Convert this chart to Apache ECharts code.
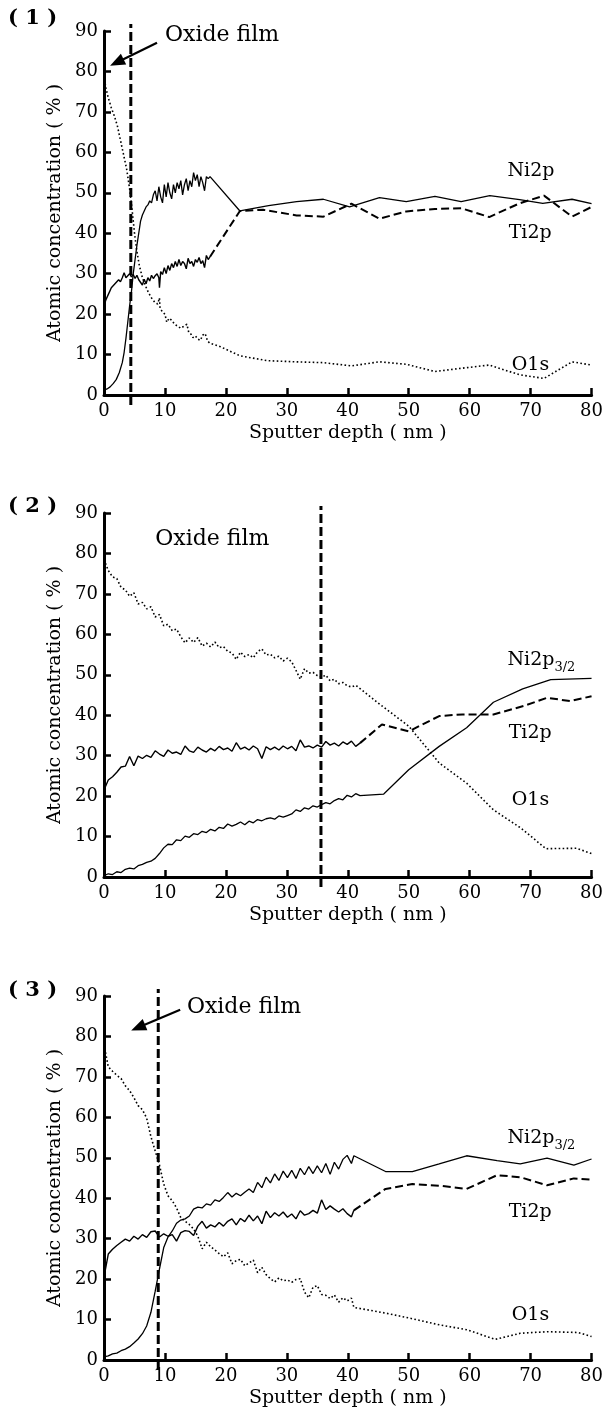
<!DOCTYPE html>
<html>
<head>
<meta charset="utf-8">
<script src="https://cdn.jsdelivr.net/npm/echarts@6/dist/echarts.min.js"></script>
<style>
  html, body { margin: 0; padding: 0; background: #fff; }
  #chart { width: 606px; height: 1414px; }
</style>
</head>
<body>
<div id="chart"></div>
<script>
// XPS depth profiles of the three samples: atomic concentration (%) vs sputter depth (nm)

// ---------- Panel (1) ----------
const p1NiDepth = [0, 0.5, 1, 1.5, 2, 2.5, 3, 3.3, 3.6, 3.9, 4.2, 4.5, 4.8, 5.1, 5.4, 5.7, 6, 6.3, 6.6, 6.9,
  7.2, 7.5, 7.8, 8.1, 8.4, 8.7, 9, 9.3, 9.6, 9.9, 10.2, 10.5, 10.8, 11.1, 11.4, 11.7, 12, 12.3, 12.6, 12.9,
  13.2, 13.5, 13.8, 14.1, 14.4, 14.7, 15, 15.3, 15.6, 15.9, 16.2, 16.5, 16.8, 17.1, 17.4,
  22.3, 27, 31.6, 36, 40.3, 45.2, 49.6, 54.3, 58.6, 63.3, 68.2, 72, 76.8, 80];
const p1Ni = [1.2, 1.5, 2, 2.8, 3.8, 5.5, 8, 10.5, 14, 18, 22, 25.5, 30, 33.5, 37, 40, 43, 44.5, 45.5, 46.5,
  47, 48, 47.5, 49.5, 50.5, 48, 51.5, 49, 47.5, 52, 49, 52.5, 50, 48.5, 52, 50, 52.5, 51, 53, 49.5,
  52, 53.5, 50.5, 53, 51.5, 55, 53, 54.5, 51.5, 54, 52.5, 50.5, 54, 53.5, 54,
  45.5, 46.8, 47.8, 48.4, 46.5, 48.8, 47.8, 49.1, 47.8, 49.3, 48.3, 47.4, 48.4, 47.3];

const p1TiDepth = [0, 0.3, 0.6, 0.9, 1.2, 1.5, 1.8, 2.1, 2.4, 2.7, 3, 3.3, 3.6, 3.9, 4.2, 4.5, 4.8, 5.1, 5.4, 5.7,
  6, 6.3, 6.6, 6.9, 7.2, 7.5, 7.8, 8.1, 8.4, 8.7, 9, 9.1, 9.3, 9.6, 9.9, 10.2, 10.5, 10.8, 11.1, 11.4,
  11.7, 12, 12.3, 12.6, 12.9, 13.2, 13.5, 13.8, 14.1, 14.4, 14.7, 15, 15.3, 15.6, 15.9, 16.2, 16.5, 16.8, 17.1, 17.4];
const p1Ti = [22, 23.5, 24.5, 25.5, 26.5, 27, 27.5, 28, 28.5, 28, 29, 30.2, 29, 29.5, 30, 29.2, 29.8, 28.8, 29.6, 28.5,
  28.2, 27.2, 28.6, 27.5, 29, 28.2, 29.6, 28.8, 29.5, 30, 29, 26.5, 30.5, 29.8, 31.5, 30, 32, 30.8, 32.5, 31.5,
  33, 31.8, 33.5, 32, 33, 32.5, 31.2, 33.8, 32.5, 33, 31.8, 33.5, 32.8, 34, 32.5, 33.2, 31.5, 34.5, 33.5, 34.2];
const p1TiTailDepth = [22.3, 26.1, 31.6, 36, 40.6, 45.2, 49.6, 54.3, 58.6, 63.2, 68.2, 72.2, 76.8, 80];
const p1TiTail = [45.5, 45.8, 44.4, 44.1, 47.3, 43.6, 45.4, 46, 46.2, 44, 47.4, 49.3, 44.1, 46.5];

const p1ODepth = [0, 0.3, 0.7, 1.2, 1.7, 2.2, 2.7, 3.2, 3.7, 4.2, 4.6, 5, 5.4, 5.8, 6.3, 6.8, 7.3, 7.8, 8.3, 8.8,
  9.1, 9.2, 9.6, 10, 10.3, 10.7, 11.1, 11.6, 12.1, 12.6, 13.1, 13.6, 13.9, 14.3, 14.6, 15, 15.4, 15.8, 16.2, 16.6,
  17, 17.4, 19, 22.3, 26.7, 31.6, 36, 40.6, 45.2, 49.6, 54.3, 58.6, 63.2, 68.2, 72.2, 76.8, 80];
const p1O = [79, 76, 73.5, 71, 69, 66.5, 63, 59.5, 56, 51, 46, 40, 35.5, 32, 29, 27, 25.3, 24, 23, 22.5,
  24, 21.5, 20.5, 20, 18, 19, 18.5, 17.5, 17, 16.5, 17, 17.5, 15.5, 15, 14.2, 14.6, 13.8, 13.5, 14.8, 15.2,
  13.3, 12.8, 12, 9.7, 8.5, 8.2, 8, 7.2, 8.2, 7.6, 5.8, 6.6, 7.4, 5, 4.1, 8.2, 7.4];

// ---------- Panel (2) ----------
const p2Depth = [0, 0.7, 1.4, 2.1, 2.8, 3.5, 4.2, 4.9, 5.6, 6.3, 7, 7.7, 8.4, 9.1, 9.8, 10.5, 11.2, 11.9, 12.6, 13.3,
  14, 14.7, 15.4, 16.1, 16.8, 17.5, 18.2, 18.9, 19.6, 20.3, 21, 21.7, 22.4, 23.1, 23.8, 24.5, 25.2, 25.9, 26.6, 27.3,
  28, 28.7, 29.4, 30.1, 30.8, 31.5, 32.2, 32.9, 33.6, 34.3, 35, 35.7, 36.4, 37.1, 37.8, 38.5, 39.2, 39.9, 40.6, 41.3, 42];
const p2Ni = [0.3, 0.8, 0.6, 1.3, 1.1, 1.9, 2.2, 2.0, 2.8, 3.1, 3.6, 3.9, 4.6, 5.8, 7.2, 8.1, 8.0, 9.2, 9.0, 10.1,
  9.8, 10.7, 10.5, 11.3, 11.0, 11.8, 11.4, 12.3, 12.0, 13.1, 12.6, 13.0, 13.6, 12.9, 13.8, 13.4, 14.2, 13.9, 14.4, 14.6,
  14.3, 15.1, 14.8, 15.2, 15.6, 16.6, 16.2, 17.1, 16.8, 17.6, 17.3, 17.9, 18.4, 18.1, 18.9, 19.4, 19.1, 20.2, 19.8, 20.6, 20.1];
const p2Ti = [21.5, 24, 24.8, 25.9, 27.2, 27.4, 29.8, 27.5, 29.9, 29.3, 30.1, 29.6, 31.2, 30.4, 29.8, 31.4, 30.6, 30.9, 30.3, 32.4,
  31.2, 30.8, 32.1, 31.4, 30.9, 31.8, 31.2, 32.3, 31.5, 31.9, 31.1, 33.2, 31.6, 32.1, 31.4, 32.4, 31.7, 29.3, 32.2, 31.5,
  32.1, 31.4, 32.4, 31.7, 32.3, 31.2, 33.9, 32.1, 32.4, 31.9, 32.6, 32.1, 33.5, 32.6, 33.1, 32.4, 33.4, 32.8, 33.6, 32.3, 33.1];
const p2O = [78.5, 75.8, 74.2, 73.8, 71.6, 71.0, 69.4, 70.3, 67.5, 67.9, 66.3, 66.8, 64.3, 64.9, 62.1, 62.5, 60.9, 61.3, 59.4, 57.9,
  59.1, 58.0, 59.2, 57.1, 57.8, 56.9, 58.1, 56.7, 57.0, 55.8, 55.4, 53.8, 55.6, 54.5, 55.0, 54.2, 55.7, 56.4, 54.9, 55.1,
  54.2, 54.6, 53.4, 54.1, 53.2, 51.1, 48.9, 51.5, 50.4, 50.6, 49.8, 49.4, 49.9, 48.5, 48.9, 47.8, 48.1, 47.3, 47.0, 47.4, 46.6];
const p2NiTailDepth = [45.9, 50, 55, 59.5, 63.9, 68.7, 73.3, 80];
const p2NiTail = [20.5, 26.5, 32.3, 36.9, 43.2, 46.5, 48.8, 49.1];
const p2TiTailDepth = [45.6, 50, 55, 58.8, 63.9, 68.9, 72.7, 76.5, 80];
const p2TiTail = [37.7, 36, 39.8, 40.2, 40.2, 42.3, 44.3, 43.5, 44.7];
const p2OTailDepth = [45, 50, 55, 59.5, 63.9, 68.5, 72.5, 77.5, 80];
const p2OTail = [43, 37.3, 28.2, 23.2, 16.6, 12, 7, 7.1, 5.8];

// ---------- Panel (3) ----------
const p3Depth = [0, 0.7, 1.4, 2.1, 2.8, 3.5, 4.2, 4.9, 5.6, 6.3, 7, 7.7, 8.4, 9.1, 9.8, 10.5, 11.2, 11.9, 12.6, 13.3,
  14, 14.7, 15.4, 16.1, 16.8, 17.5, 18.2, 18.9, 19.6, 20.3, 21, 21.7, 22.4, 23.1, 23.8, 24.5, 25.2, 25.9, 26.6, 27.3,
  28, 28.7, 29.4, 30.1, 30.8, 31.5, 32.2, 32.9, 33.6, 34.3, 35, 35.7, 36.4, 37.1, 37.8, 38.5, 39.2, 39.9, 40.6, 41];
const p3Ni = [0.8, 1.0, 1.5, 1.7, 2.3, 2.7, 3.3, 4.2, 5.2, 6.5, 8.4, 11.8, 17.0, 22.5, 27.8, 30.4, 31.9, 33.8, 34.6, 34.9,
  35.6, 37.3, 37.8, 37.6, 38.6, 38.3, 39.6, 39.2, 40.2, 41.4, 40.3, 41.2, 40.6, 41.5, 42.3, 41.4, 43.9, 42.6, 45.2, 43.8,
  46.0, 44.4, 46.7, 45.1, 46.9, 44.9, 47.4, 45.8, 47.8, 46.1, 48.0, 46.3, 48.6, 45.9, 48.9, 47.2, 49.6, 50.6, 48.6, 50.5];
const p3Ti = [20.5, 26.2, 27.4, 28.3, 29.1, 29.9, 29.4, 30.6, 29.9, 31.0, 30.3, 31.7, 31.9, 30.4, 31.2, 30.6, 31.0, 29.4, 31.5, 32.0,
  31.8, 30.8, 33.1, 34.3, 32.6, 33.4, 32.9, 34.0, 33.1, 34.3, 34.9, 33.4, 35.0, 34.2, 35.8, 34.4, 35.6, 33.7, 36.8, 35.2,
  36.4, 35.6, 36.6, 35.3, 36.1, 34.9, 36.9, 35.8, 36.2, 37.0, 36.3, 39.6, 37.2, 38.1, 37.3, 36.6, 37.4, 36.2, 35.4, 37.0];
const p3O = [78, 72.5, 71.4, 70.4, 69.6, 67.8, 66.6, 64.9, 62.9, 61.9, 59.8, 55.2, 51.7, 48.2, 43.5, 40.6, 39.4, 37.6, 35.2, 34.3,
  33.5, 32.4, 30.6, 27.5, 29.1, 28.0, 27.2, 26.3, 25.5, 26.5, 23.8, 24.6, 24.9, 23.3, 24.0, 24.7, 21.6, 22.9, 21.1, 20.1,
  19.3, 20.3, 19.6, 19.8, 19.2, 19.9, 20.1, 16.8, 15.4, 18.0, 18.4, 16.2, 16.0, 15.2, 16.1, 14.3, 15.4, 14.6, 15.3, 13.0];
const p3NiTailDepth = [46.2, 50.6, 55, 59.5, 64.5, 68.3, 72.7, 77.1, 80];
const p3NiTail = [46.6, 46.6, 48.5, 50.5, 49.3, 48.5, 49.9, 48.2, 49.7];
const p3TiTailDepth = [46.2, 50.6, 55, 59.5, 64.5, 68.3, 72.7, 77.1, 80];
const p3TiTail = [42.3, 43.5, 43.1, 42.3, 45.7, 45.2, 43.2, 44.9, 44.6];
const p3OTailDepth = [46.2, 50, 55, 59.5, 64.2, 68.3, 72.7, 77.8, 80];
const p3OTail = [11.6, 10.4, 8.7, 7.5, 5.1, 6.6, 7, 6.8, 5.8];

// Oxide-film boundary depth (nm) and annotation arrows [tail, head] in data units
const filmDepths = [4.4, 35.6, 8.9];
const p1Arrow = [[8.7, 87.1], [2.1, 82.2]];
const p3Arrow = [[12.5, 86.6], [5.6, 82.2]];

// Axis ticks and texts
const xTicks = { min: 0, max: 80, step: 10 };
const yTicks = { min: 0, max: 90, step: 10 };
const xTitle = 'Sputter depth ( nm )';
const yTitle = 'Atomic concentration ( % )';
const panelTags = ['( 1 )', '( 2 )', '( 3 )'];
const niNames = ['Ni2p', 'Ni2p', 'Ni2p'];
const niSubs = ['', '3/2', '3/2'];

// ---------- build ----------
const zip = (d, v) => d.map((x, i) => [x, v[i]]);
const panels = [
  {
    ni: zip(p1NiDepth, p1Ni),
    ti: zip(p1TiDepth, p1Ti),
    tiTail: zip(p1TiTailDepth, p1TiTail),
    o: zip(p1ODepth, p1O),
    arrow: p1Arrow,
    film: [10, 89],
    labels: { ni: [66.2, 55.4], ti: [66.4, 40], o: [66.9, 7.4] }
  },
  {
    ni: zip(p2Depth, p2Ni).concat(zip(p2NiTailDepth, p2NiTail)),
    ti: zip(p2Depth, p2Ti),
    tiTail: zip(p2TiTailDepth, p2TiTail),
    o: zip(p2Depth, p2O).concat(zip(p2OTailDepth, p2OTail)),
    arrow: null,
    film: [8.4, 83.6],
    labels: { ni: [66.2, 53.7], ti: [66.4, 35.6], o: [66.9, 19] }
  },
  {
    ni: zip(p3Depth, p3Ni).concat(zip(p3NiTailDepth, p3NiTail)),
    ti: zip(p3Depth, p3Ti),
    tiTail: zip(p3TiTailDepth, p3TiTail),
    o: zip(p3Depth, p3O).concat(zip(p3OTailDepth, p3OTail)),
    arrow: p3Arrow,
    film: [13.6, 87.3],
    labels: { ni: [66.2, 54.9], ti: [66.4, 36.6], o: [66.9, 11.1] }
  }
];

const SERIF = '"DejaVu Serif", serif';
const BLACK = '#000';
const gridTops = [31, 513, 996];

const grids = gridTops.map(t => ({ left: 104, width: 490, top: t, height: 364 }));

const axisCommon = {
  type: 'value',
  axisLine: { onZero: false, lineStyle: { color: BLACK, width: 3 } },
  axisTick: { inside: true, length: 7, lineStyle: { color: BLACK, width: 2.5 } },
  axisLabel: { color: BLACK, fontFamily: SERIF, fontSize: 18 },
  splitLine: { show: false },
  nameLocation: 'middle',
  nameTextStyle: { color: BLACK, fontFamily: SERIF, fontSize: 19 }
};

const xAxes = gridTops.map((t, i) => Object.assign({}, axisCommon, {
  gridIndex: i, min: xTicks.min, max: xTicks.max, interval: xTicks.step,
  name: xTitle, nameGap: 29,
  axisLabel: Object.assign({}, axisCommon.axisLabel, { margin: 7 })
}));
const yAxes = gridTops.map((t, i) => Object.assign({}, axisCommon, {
  gridIndex: i, min: yTicks.min, max: yTicks.max, interval: yTicks.step,
  name: yTitle, nameGap: 38,
  axisLabel: Object.assign({}, axisCommon.axisLabel, { margin: 6 })
}));

const lineBase = (i, data, lineStyle, extra) => Object.assign({
  type: 'line', xAxisIndex: i, yAxisIndex: i, data: data,
  symbol: 'none', silent: true, animation: false,
  lineStyle: Object.assign({ color: BLACK }, lineStyle)
}, extra || {});

const series = [];
panels.forEach((p, i) => {
  series.push(lineBase(i, p.ni, { width: 1.3 }));
  series.push(lineBase(i, p.ti, { width: 1.4 }));
  const joint = p.ti[p.ti.length - 1];
  series.push(lineBase(i, [joint].concat(p.tiTail), { width: 2, type: [8, 4] }));
  series.push(lineBase(i, p.o, { width: 1.6, type: [1.6, 2.4] }));
  const fd = filmDepths[i];
  const marker = lineBase(i, [[fd, -2.5], [fd, 91.7]], { width: 3, type: [9, 4] }, { clip: false });
  if (p.arrow) {
    marker.markLine = {
      silent: true,
      symbol: ['none', 'triangle'],
      symbolSize: [12, 15],
      label: { show: false },
      lineStyle: { color: BLACK, width: 2.2, type: 'solid' },
      data: [[{ coord: p.arrow[0] }, { coord: p.arrow[1] }]]
    };
  }
  series.push(marker);
});

const chart = echarts.init(document.getElementById('chart'));
chart.setOption({
  backgroundColor: '#fff',
  animation: false,
  grid: grids,
  xAxis: xAxes,
  yAxis: yAxes,
  series: series
});

// Text annotations placed in data coordinates of each panel
const graphics = [];
const txt = (x, y, text, size, opts) => Object.assign({
  type: 'text', x: x, y: y, silent: true,
  style: Object.assign({ text: text, fill: BLACK, font: size + 'px ' + SERIF, align: 'left', verticalAlign: 'middle' }, opts || {})
});
panels.forEach((p, i) => {
  const px = v => chart.convertToPixel({ gridIndex: i }, v);
  graphics.push(txt(8, gridTops[i] - [12, 6, 5][i], panelTags[i], 21, { font: 'bold 21px ' + SERIF }));
  const f = px(p.film);
  graphics.push(txt(f[0], f[1], 'Oxide film', 22));
  const n = px(p.labels.ni);
  graphics.push(txt(n[0], n[1], niNames[i], 19));
  if (niSubs[i]) graphics.push(txt(n[0] + 47, n[1] + 8, niSubs[i], 13));
  const t = px(p.labels.ti);
  graphics.push(txt(t[0], t[1], 'Ti2p', 19));
  const o = px(p.labels.o);
  graphics.push(txt(o[0], o[1], 'O1s', 19));
});
chart.setOption({ graphic: graphics });
</script>
</body>
</html>
